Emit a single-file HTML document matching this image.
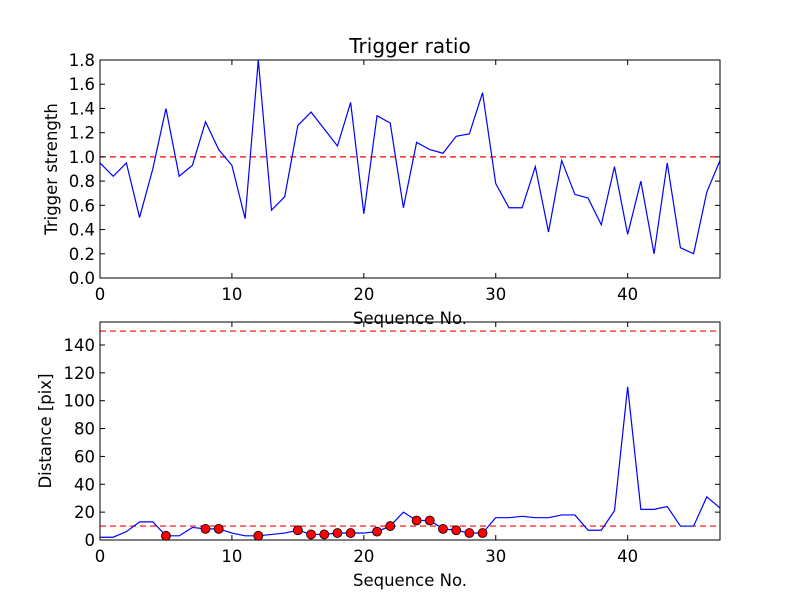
<!DOCTYPE html>
<html><head><meta charset="utf-8"><style>body{margin:0;background:#fff}svg{display:block;font-family:"DejaVu Sans","Liberation Sans",sans-serif}</style></head>
<body>
<svg id="c" width="800" height="600"></svg>
<script>
const seq=[...Array(48).keys()];
const strength=[0.95,0.84,0.95,0.5,0.9,1.4,0.84,0.93,1.29,1.06,0.93,0.49,1.8,0.56,0.67,1.26,1.37,1.23,1.09,1.45,0.53,1.34,1.28,0.58,1.12,1.06,1.03,1.17,1.19,1.53,0.78,0.58,0.58,0.92,0.38,0.97,0.69,0.66,0.44,0.92,0.36,0.8,0.2,0.95,0.25,0.2,0.71,0.97];
const distance=[2,2,6,13,13,3,3,9,8,8,5,3,3,4,5,7,4,4,5,5,5,6,10,20,14,14,8,7,5,5,16,16,17,16,16,18,18,7,7,21,110,22,22,24,10,10,31,23];
const markerIdx=[5,8,9,12,15,16,17,18,19,21,22,24,25,26,27,28,29];
const xTicks=[0,10,20,30,40];
const topTicks=[0,0.2,0.4,0.6,0.8,1.0,1.2,1.4,1.6,1.8];
const botTicks=[0,20,40,60,80,100,120,140];
const svg=document.getElementById('c');
const NS='http://www.w3.org/2000/svg';
function mk(t,a,p){const e=document.createElementNS(NS,t);for(const k in a)e.setAttribute(k,a[k]);(p||svg).appendChild(e);return e;}
const L=100,R=720,FS=16.5;
const x=v=>L+v/47*(R-L);
function panel(top,bot,ymax,ticks,vals,fmt,ylabel,name,refs,ylx){
  const y=v=>bot-v/ymax*(bot-top);
  const g=mk('g',{});
  
  
  refs.forEach(r=>{const l=mk('line',{x1:L,x2:R,y1:y(r),y2:y(r),stroke:'red','stroke-width':1.2,'stroke-dasharray':'6,4'},g);});
  const pl=mk('polyline',{points:vals.map((v,i)=>x(seq[i])+','+y(v)).join(' '),fill:'none',stroke:'blue','stroke-width':1.2},g);
  
  mk('rect',{x:L,y:top,width:R-L,height:bot-top,fill:'none',stroke:'#000','stroke-width':1},g);
  ticks.forEach(t=>{const yy=y(t);mk('line',{x1:L,x2:L+5,y1:yy,y2:yy,stroke:'#000'},g);mk('line',{x1:R,x2:R-5,y1:yy,y2:yy,stroke:'#000'},g);
    const tx=mk('text',{x:L-5,y:yy+6,'text-anchor':'end','font-size':FS},g);tx.textContent=fmt(t);});
  xTicks.forEach(t=>{const xx=x(t);mk('line',{x1:xx,x2:xx,y1:bot,y2:bot-5,stroke:'#000'},g);mk('line',{x1:xx,x2:xx,y1:top,y2:top+5,stroke:'#000'},g);
    const tx=mk('text',{x:xx,y:bot+22,'text-anchor':'middle','font-size':FS},g);tx.textContent=t;});
  const xl=mk('text',{x:(L+R)/2,y:bot+46,'text-anchor':'middle','font-size':FS},g);xl.textContent='Sequence No.';
  const yl=mk('text',{x:0,y:0,'text-anchor':'middle','font-size':FS,transform:`translate(${ylx},${(top+bot)/2}) rotate(-90)`},g);yl.textContent=ylabel;
  return y;
}
panel(60,278,1.8,topTicks,strength,t=>t.toFixed(1),'Trigger strength','strength-panel',[1.0],57);
const yb=panel(322,540,156.5,botTicks,distance,t=>t,'Distance [pix]','distance-panel',[150,10],51);
markerIdx.forEach(i=>{const c=mk('circle',{cx:x(seq[i]),cy:yb(distance[i]),r:4.5,fill:'red',stroke:'#000','stroke-width':0.8});});
const t=mk('text',{x:410,y:53,'text-anchor':'middle','font-size':20});t.textContent='Trigger ratio';


</script>
</body></html>
